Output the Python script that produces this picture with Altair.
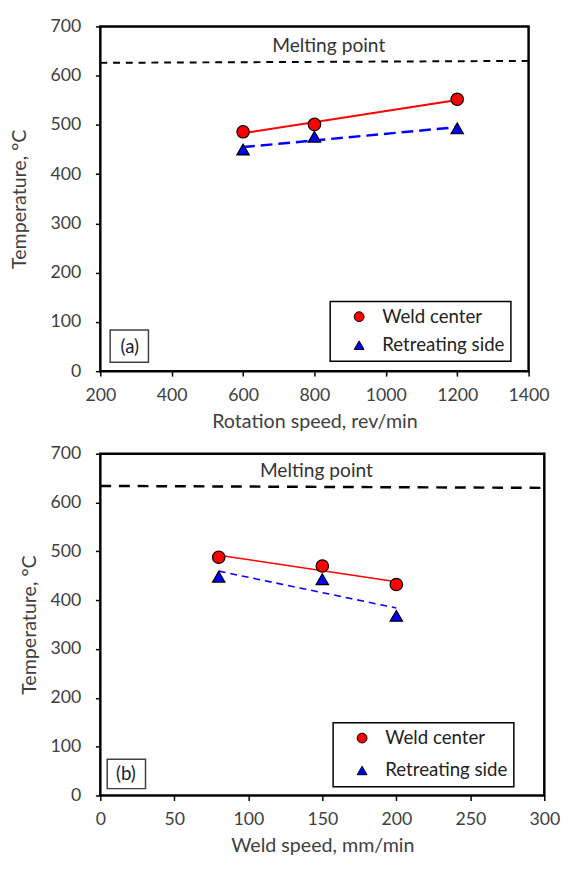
import altair as alt
import pandas as pd

# ---- data ----
series_names = ["Weld center", "Retreating side"]

rot_speed = [600, 800, 1200]
rot_center = [486, 501, 552]
rot_retreat = [450, 476, 493]

weld_speed = [80, 150, 200]
weld_center = [488, 470, 432]
weld_retreat = [448, 443, 368]

melt_top_x = [200, 1400]
melt_top_y = [626, 630]
melt_bot_x = [0, 300]
melt_bot_y = [634, 630]

melt_label = ["Melting point"]
melt_top_label_x = [840]
melt_top_label_y = [660]
melt_bot_label_x = [146]
melt_bot_label_y = [664]

panel_labels = ["(a)", "(b)"]

top_x_ticks = [200, 400, 600, 800, 1000, 1200, 1400]
bot_x_ticks = [0, 50, 100, 150, 200, 250, 300]
y_ticks = [0, 100, 200, 300, 400, 500, 600, 700]

FONT = "Lato"
TXT = "#404040"
NBSP = "\u00a0"


def make_points(xs, center, retreat):
    rows = []
    for x, c in zip(xs, center):
        rows.append({"speed": x, "Temperature": c, "Series": series_names[0]})
    for x, r in zip(xs, retreat):
        rows.append({"speed": x, "Temperature": r, "Series": series_names[1]})
    return pd.DataFrame(rows)


def panel(df, mx, my, lx, ly, xdom, xticks, xtitle, plabel, w, h,
          ytitle_pad, xtitle_pad, leg_x, leg_y, leg_rowpad, leg_spaces,
          blue_dash, blue_w, red_w, melt_dash, melt_w, box, box_text):
    xs = alt.X("speed:Q", scale=alt.Scale(domain=xdom, nice=False),
               axis=alt.Axis(values=xticks, title=xtitle, format="d",
                             labelFlush=False, titlePadding=xtitle_pad))
    ys = alt.Y("Temperature:Q", scale=alt.Scale(domain=[0, 700], nice=False),
               axis=alt.Axis(values=y_ticks, title="Temperature, °C",
                             titlePadding=ytitle_pad))
    base = alt.Chart(df)

    melt_df = pd.DataFrame({"speed": mx, "Temperature": my})
    melt = alt.Chart(melt_df).mark_line(color="black", strokeDash=melt_dash,
                                        strokeWidth=melt_w).encode(x=xs, y=ys)
    melt_txt_df = pd.DataFrame({"speed": lx, "Temperature": ly, "t": melt_label})
    melt_txt = alt.Chart(melt_txt_df).mark_text(font=FONT, fontSize=19.5, color="#333333").encode(
        x="speed:Q", y="Temperature:Q", text="t:N")

    red = base.transform_filter(alt.datum.Series == series_names[0]).transform_regression(
        "speed", "Temperature").mark_line(color="#ff0000", strokeWidth=red_w).encode(
        x="speed:Q", y="Temperature:Q")
    blue = base.transform_filter(alt.datum.Series == series_names[1]).transform_regression(
        "speed", "Temperature").mark_line(color="#0000ff", strokeWidth=blue_w,
                                          strokeDash=blue_dash).encode(
        x="speed:Q", y="Temperature:Q")

    pad = NBSP * leg_spaces
    legend = alt.Legend(orient="none", legendX=leg_x, legendY=leg_y, title=None,
                        strokeColor="black", fillColor="white", padding=6,
                        symbolOffset=14, labelFontSize=19, labelFont=FONT,
                        labelColor="#222222", rowPadding=leg_rowpad, labelOffset=14,
                        symbolStrokeColor="black", symbolStrokeWidth=1,
                        labelExpr="datum.label + '" + pad + "'")
    pts = base.mark_point(filled=True, strokeWidth=1.2, opacity=1).encode(
        x="speed:Q", y="Temperature:Q",
        fill=alt.Fill("Series:N", scale=alt.Scale(domain=series_names,
                                                   range=["#ff0000", "#0000ff"]),
                      legend=legend),
        stroke=alt.Stroke("Series:N", scale=alt.Scale(domain=series_names,
                                                       range=["black", "black"]),
                          legend=legend),
        shape=alt.Shape("Series:N", scale=alt.Scale(domain=series_names,
                                                     range=["circle", "triangle-up"]),
                        legend=legend),
        size=alt.value(160),
        order=alt.Order("Series:N", sort="descending"),
    )

    lab_df = pd.DataFrame({"t": [plabel]})
    rect = alt.Chart(lab_df).mark_rect(fill="white", stroke="#404040", strokeWidth=1.5).encode(
        x=alt.value(box[0]), x2=alt.value(box[1]), y=alt.value(box[2]), y2=alt.value(box[3]))
    rtxt = alt.Chart(lab_df).mark_text(font=FONT, fontSize=19, color="#1a1a33").encode(
        x=alt.value(box_text[0]), y=alt.value(box_text[1]), text="t:N")

    return alt.layer(melt, melt_txt, red, blue, pts, rect, rtxt).properties(width=w, height=h)


top = panel(make_points(rot_speed, rot_center, rot_retreat), melt_top_x, melt_top_y,
            melt_top_label_x, melt_top_label_y, [200, 1400], top_x_ticks,
            "Rotation speed, rev/min", panel_labels[0], 436, 351, 21, 7, 234, 280, 9, 6,
            [12, 6], 2.5, 2, [7, 6], 2, (10, 49, 309, 342), (30, 326))
bot = panel(make_points(weld_speed, weld_center, weld_retreat), melt_bot_x, melt_bot_y,
            melt_bot_label_x, melt_bot_label_y, [0, 300], bot_x_ticks,
            "Weld speed, mm/min", panel_labels[1], 452, 348, 11, 7, 237, 274, 13, 10,
            [7, 5], 1.6, 1.6, [11, 8], 2.5, (7, 46, 311, 341), (26, 326))

chart = alt.vconcat(top, bot, spacing=10).resolve_scale(
    fill="independent", stroke="independent", shape="independent",
    x="independent", y="independent"
).resolve_legend(fill="independent", stroke="independent", shape="independent").properties(
    padding={"left": 0, "top": 0, "right": 0, "bottom": 0}
).configure_view(stroke="black", strokeWidth=2.5).configure_axis(
    grid=False, domain=False, tickColor="black", tickWidth=1.5, tickSize=5,
    labelFont=FONT, labelFontSize=18, labelColor=TXT, labelPadding=15,
    titleFont=FONT, titleFontSize=20, titleFontWeight="normal", titleColor=TXT
).configure_axisX(labelPadding=11).configure_legend(strokeWidth=1.5)

chart.save("out.html", embed_options={"renderer": "svg", "actions": False})
